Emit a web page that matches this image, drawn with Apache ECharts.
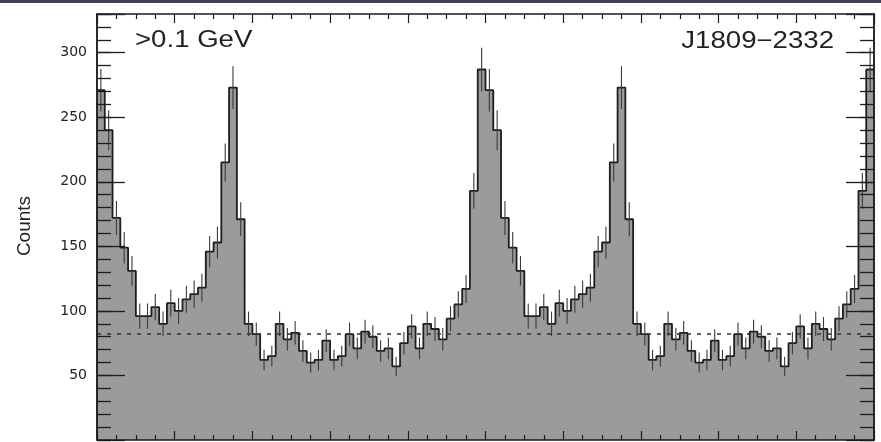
<!DOCTYPE html>
<html>
<head>
<meta charset="utf-8">
<title>J1809−2332 light curve</title>
<script src="https://cdn.jsdelivr.net/npm/echarts@6/dist/echarts.min.js"></script>
<style>
  html, body { margin: 0; padding: 0; background: #ffffff; }
  #chart { width: 881px; height: 442px; }
</style>
</head>
<body>
<div id="chart"></div>
<script>
// Gamma-ray pulse profile of PSR J1809−2332 above 0.1 GeV.
// One rotation is binned into 50 phase bins; the profile is shown over two rotations.
const binsPerRotation = 50;
const rotations = 2;
const counts = [
  271, 240, 172, 149, 131,  96,  96, 103,  90, 106,
  100, 109, 113, 118, 146, 153, 215, 273, 171,  90,
   82,  62,  65,  90,  78,  83,  69,  60,  62,  77,
   62,  65,  82,  71,  84,  80,  69,  71,  57,  75,
   88,  71,  90,  86,  78,  94, 105, 117, 193, 287
];
const backgroundLevel = 82;
const yTickLabels = [50, 100, 150, 200, 250, 300];
const energyLabel = '>0.1 GeV';
const sourceName = 'J1809−2332';
const yAxisTitle = 'Counts';

const binWidth = 1 / binsPerRotation;

// Step outline: each bin starts at its left phase edge; final point closes the last bin.
const stepData = [];
const barCenters = [];
for (let r = 0; r < rotations; r++) {
  counts.forEach((c, i) => {
    const left = r + i * binWidth;
    stepData.push([left, c]);
    barCenters.push([left + binWidth / 2, c]);
  });
}
stepData.push([rotations, counts[counts.length - 1]]);

const axisColor = '#1c1c1c';

function xAxisCfg(position) {
  return {
    type: 'value', gridIndex: 0, position: position,
    min: 0, max: rotations, interval: 0.2, z: 10,
    axisLine: { show: true, onZero: false, lineStyle: { color: axisColor, width: 1.5 } },
    axisTick: { show: true, inside: true, length: 9, lineStyle: { color: axisColor, width: 1.2 } },
    minorTick: { show: true, splitNumber: 4, length: 5, lineStyle: { color: axisColor, width: 1.2 } },
    axisLabel: { show: false },
    splitLine: { show: false },
    minorSplitLine: { show: false }
  };
}

function yAxisCfg(position, interval, tickLen, withLabels) {
  return {
    type: 'value', gridIndex: 0, position: position,
    min: 0, max: 330, interval: interval, z: 10,
    axisLine: { show: true, onZero: false, lineStyle: { color: axisColor, width: 1.5 } },
    axisTick: { show: true, inside: true, length: tickLen, lineStyle: { color: axisColor, width: 1.3 } },
    minorTick: { show: false },
    axisLabel: {
      show: withLabels,
      margin: 10,
      color: '#222222',
      fontFamily: 'DejaVu Sans',
      fontSize: 14,
      padding: [5, 0, 0, 0],
      formatter: v => (yTickLabels.indexOf(v) >= 0 ? String(v) : '')
    },
    splitLine: { show: false }
  };
}

const chart = echarts.init(document.getElementById('chart'), null, { renderer: 'canvas' });

chart.setOption({
  backgroundColor: '#ffffff',
  animation: false,
  grid: {
    left: 97, right: 7, top: 14, bottom: 2,
    containLabel: false,
    outerBoundsMode: 'none'
  },
  xAxis: [xAxisCfg('bottom'), xAxisCfg('top')],
  yAxis: [
    yAxisCfg('left', 50, 28, true),
    yAxisCfg('left', 10, 14, false),
    yAxisCfg('right', 50, 28, false),
    yAxisCfg('right', 10, 14, false)
  ],
  series: [
    {
      name: 'counts',
      type: 'line',
      xAxisIndex: 0, yAxisIndex: 0,
      step: 'end',
      data: stepData,
      symbol: 'none',
      z: 2,
      lineStyle: { color: '#1e1e1e', width: 1.8 },
      areaStyle: { color: '#9b9b9b', opacity: 1, origin: 'start' },
      markLine: {
        silent: true,
        symbol: 'none',
        label: { show: false },
        lineStyle: { color: '#333333', width: 1.6, type: [4, 6] },
        data: [{ yAxis: backgroundLevel }],
        z: 3
      }
    },
    {
      // Poisson uncertainty on each bin (±√N)
      name: 'errors',
      type: 'custom',
      xAxisIndex: 0, yAxisIndex: 0,
      data: barCenters,
      z: 4,
      renderItem: function (params, api) {
        const x = api.value(0);
        const v = api.value(1);
        const e = Math.sqrt(v);
        const top = api.coord([x, v + e]);
        const bot = api.coord([x, v - e]);
        return {
          type: 'line',
          shape: { x1: top[0], y1: top[1], x2: bot[0], y2: bot[1] },
          style: { stroke: '#3a3a3a', lineWidth: 1.1 }
        };
      }
    }
  ],
  graphic: [
    {
      type: 'rect', left: 0, top: 0, z: 100,
      shape: { x: 0, y: 0, width: 881, height: 3 },
      style: { fill: '#403e56' }
    },
    {
      type: 'text', x: 135, y: 41, scaleX: 1.2, z: 100,
      style: {
        text: energyLabel, fill: '#222222',
        fontFamily: 'Liberation Sans', fontSize: 23,
        align: 'left', verticalAlign: 'middle',
        textAlign: 'left', textVerticalAlign: 'middle'
      }
    },
    {
      type: 'text', x: 834, y: 42, scaleX: 1.2, z: 100,
      style: {
        text: sourceName, fill: '#222222',
        fontFamily: 'Liberation Sans', fontSize: 23,
        align: 'right', verticalAlign: 'middle',
        textAlign: 'right', textVerticalAlign: 'middle'
      }
    },
    {
      type: 'text', x: 25, y: 226, rotation: Math.PI / 2, z: 100,
      style: {
        text: yAxisTitle, fill: '#222222',
        fontFamily: 'Liberation Sans', fontSize: 19,
        align: 'center', verticalAlign: 'middle',
        textAlign: 'center', textVerticalAlign: 'middle'
      }
    }
  ]
});
</script>
</body>
</html>
